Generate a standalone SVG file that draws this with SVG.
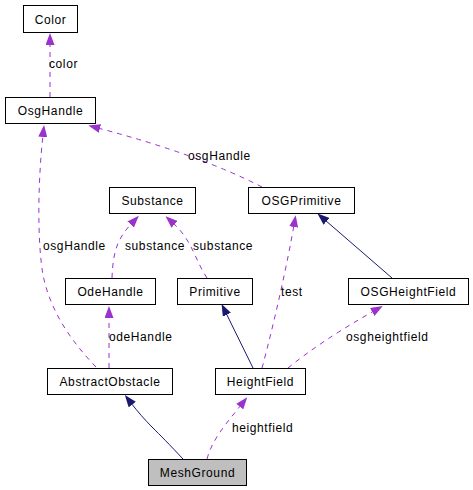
<svg xmlns="http://www.w3.org/2000/svg" width="473" height="490" viewBox="0 0 473 490">
<style>
text{font-family:"Liberation Sans",Arial,sans-serif;font-size:12px;letter-spacing:0.6px;fill:#000}
.node rect{fill:#fff;stroke:#000;stroke-width:1}
.node text{text-anchor:middle}
.dep{fill:none;stroke:#9a32cd;stroke-width:1;stroke-dasharray:5,5;marker-end:url(#ap)}
.inh{fill:none;stroke:#191970;stroke-width:1;marker-end:url(#an)}
</style>
<defs>
<marker id="ap" viewBox="0 0 12 9" refX="2" refY="4.5" markerWidth="12" markerHeight="9" markerUnits="userSpaceOnUse" orient="auto"><path d="M0,0 L12,4.5 L0,9 z" fill="#9a32cd"/></marker>
<marker id="an" viewBox="0 0 12 9" refX="2" refY="4.5" markerWidth="12" markerHeight="9" markerUnits="userSpaceOnUse" orient="auto"><path d="M0,0 L12,4.5 L0,9 z" fill="#191970"/></marker>
</defs>
<rect width="473" height="490" fill="#fff"/>
<g id="connectors">
<path class="dep" d="M50,97 L50,43"/>
<text x="49" y="68">color</text>
<path class="dep" d="M262,187 Q200,155 98,128"/>
<text x="188" y="160">osgHandle</text>
<path class="dep" d="M96,367 C70,340 50,310 43,275 C37,240 38,180 43,135"/>
<text x="43" y="250">osgHandle</text>
<path class="dep" d="M112,278 C113,250 118,238 132,223"/>
<text x="125" y="250">substance</text>
<path class="dep" d="M207,278 C195,260 192,240 173,223"/>
<text x="193" y="250">substance</text>
<path class="dep" d="M109,368 L109,316"/>
<text x="109" y="341">odeHandle</text>
<path class="dep" d="M262,368 C275,320 288,260 294,225"/>
<text x="281" y="296">test</text>
<path class="inh" d="M392,278 L325,220"/>
<path class="inh" d="M253,368 L226,313"/>
<path class="dep" d="M288,368 C310,350 340,330 374,311"/>
<text x="346" y="341">osgheightfield</text>
<path class="inh" d="M183,459 C170,445 160,435 152,427 C145,420 138,412 131,403"/>
<path class="dep" d="M207,459 C212,440 225,425 241,405"/>
<text x="232" y="432">heightfield</text>
</g>
<g id="Color" class="node"><rect x="23.5" y="5.5" width="54" height="27"/><text x="50.5" y="24">Color</text></g>
<g id="OsgHandle" class="node"><rect x="5.5" y="97.5" width="90" height="26"/><text x="50.5" y="115">OsgHandle</text></g>
<g id="Substance" class="node"><rect x="109.5" y="187.5" width="86" height="26"/><text x="152.5" y="205">Substance</text></g>
<g id="OSGPrimitive" class="node"><rect x="248.5" y="187.5" width="106" height="26"/><text x="301.5" y="205">OSGPrimitive</text></g>
<g id="OdeHandle" class="node"><rect x="65.5" y="278.5" width="90" height="26"/><text x="110.5" y="296">OdeHandle</text></g>
<g id="Primitive" class="node"><rect x="177.5" y="278.5" width="75" height="26"/><text x="215" y="296">Primitive</text></g>
<g id="OSGHeightField" class="node"><rect x="348.5" y="278.5" width="120" height="26"/><text x="408.5" y="296">OSGHeightField</text></g>
<g id="AbstractObstacle" class="node"><rect x="47.5" y="368.5" width="125" height="26"/><text x="110" y="386">AbstractObstacle</text></g>
<g id="HeightField" class="node"><rect x="215.5" y="368.5" width="90" height="26"/><text x="260.5" y="386">HeightField</text></g>
<g id="MeshGround" class="node"><rect x="148.5" y="459.5" width="98" height="26" style="fill:#bfbfbf"/><text x="197.5" y="477">MeshGround</text></g>
</svg>
